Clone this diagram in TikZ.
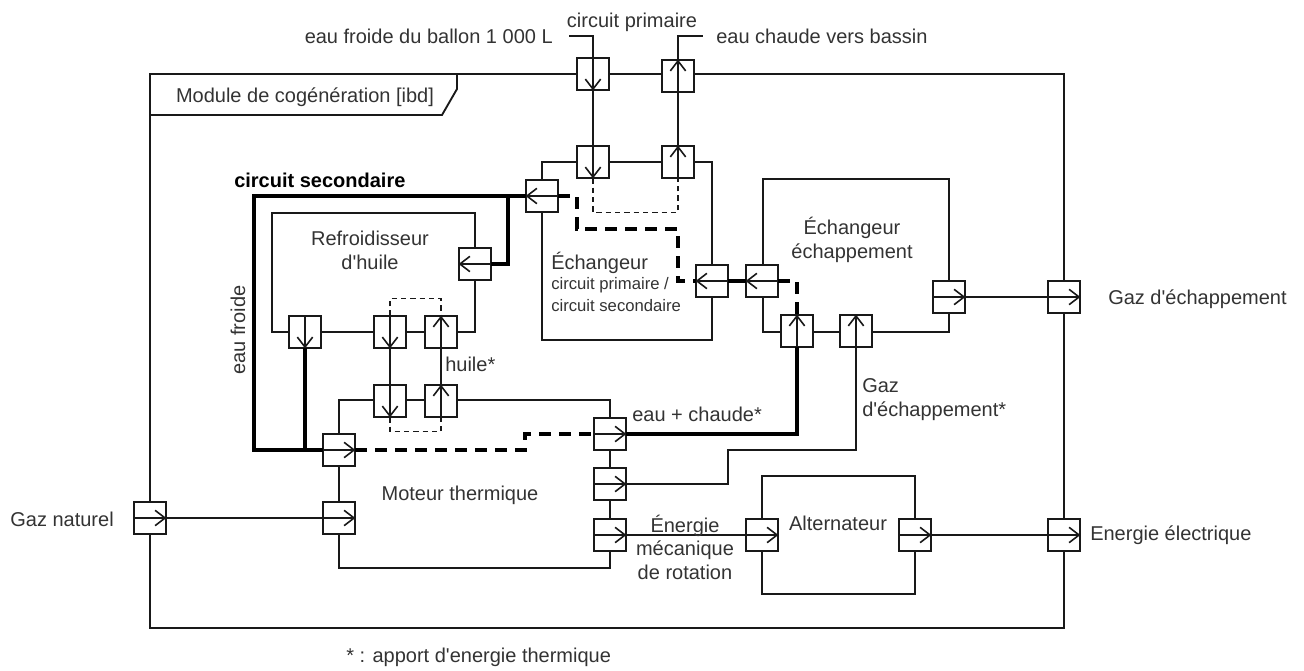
\documentclass[tikz,border=0pt]{standalone}
\usepackage{fontspec}
\setmainfont{Liberation Sans}[Ligatures=TeXOff]
\usetikzlibrary{arrows.meta}
\definecolor{txt}{RGB}{51,51,51}
\definecolor{ln}{RGB}{25,25,25}
\newcommand\prtR[2]{\node[port] (#1) at (#2) {}; \draw[flow] (#1.west) -- (#1.east);}
\newcommand\prtL[2]{\node[port] (#1) at (#2) {}; \draw[flow] (#1.east) -- (#1.west);}
\newcommand\prtU[2]{\node[port] (#1) at (#2) {}; \draw[flow] (#1.south) -- (#1.north);}
\newcommand\prtD[2]{\node[port] (#1) at (#2) {}; \draw[flow] (#1.north) -- (#1.south);}
\begin{document}
\begin{tikzpicture}[x=0.75pt,y=-0.75pt,
  every node/.style={font=\fontsize{15}{17.6}\selectfont, text=txt, inner sep=0pt},
  small/.style={font=\fontsize{12.5}{15}\selectfont},
  box/.style={draw=ln, line width=1.2pt, inner sep=0pt, outer sep=0pt},
  port/.style={draw=ln, fill=white, line width=1.6pt, minimum width=24.6pt, minimum height=24.6pt, inner sep=0pt, outer sep=0pt},
  conn/.style={draw=ln, line width=0.9pt},
  thk/.style={draw=black, line width=3pt},
  thkd/.style={draw=black, line width=3pt, dash pattern=on 9pt off 6pt},
  thd/.style={draw=ln, line width=0.9pt, dash pattern=on 4pt off 3pt},
  flow/.style={draw=ln, line width=0.9pt, -{Straight Barb[length=7.5pt,width=11.5pt,line width=1.2pt]}},
]
\useasboundingbox (0,0) rectangle (1304,671);

% frame and blocks
\node[box, line width=1.4pt, minimum width=685.5pt, minimum height=415.5pt] (frame) at (607,351) {};
\draw[box, line width=1.4pt] (frame.north west |- 0,115) -- (442,115) -- (457,89) -- (457,74);
\node (title) at (305,97) {Module de cogénération [ibd]};

\node[box, minimum width=127.5pt, minimum height=133.5pt] (exch) at (627,251) {};
\node[box, minimum width=139.5pt, minimum height=114.75pt] (exech) at (856,255.5) {};
\node[box, minimum width=152.25pt, minimum height=89.25pt] (refr) at (373.5,272.5) {};
\node[box, minimum width=203.25pt, minimum height=126pt] (mot) at (474.5,484) {};
\node[box, minimum width=114.75pt, minimum height=88.5pt] (alt) at (838.5,535) {};

% ports
\prtD{pF1}{593,74}
\prtU{pF2}{678,76}
\prtD{pE1}{593,162}
\prtU{pE2}{678,162}
\prtL{pE3}{542,196}
\prtL{pE4}{712,281}
\prtL{pX1}{762,281}
\prtU{pX2}{797,331}
\prtU{pX3}{856,331}
\prtR{pX4}{949,297}
\prtR{pO1}{1064,297}
\prtR{pO2}{1064,535}
\prtR{pIn}{150,518}
\prtD{pA}{305,332}
\prtD{pB}{390,332}
\prtU{pC}{441,332}
\prtL{pR}{475,264}
\prtD{pD}{390,401}
\prtU{pU}{441,401}
\prtR{pMF}{339,450}
\prtR{pMG}{339,518}
\prtR{pM1}{610,434}
\prtR{pM2}{610,484}
\prtR{pM3}{610,535}
\prtR{pL1}{762,535}
\prtR{pL2}{915,535}

% connectors
\coordinate (cA) at (569,36);
\coordinate (cB) at (703,36);
\draw[conn] (cA) -| (pF1.north);
\draw[conn] (pF2.north) |- (cB);
\draw[conn] (pF1.south) -- (pE1.north);
\draw[conn] (pE2.north) -- (pF2.south);
\draw[thd] (pE1.south) -- ++(0,34) -| (pE2.south);
\draw[thkd] (pE3.east) -- (577,196) -- (577,229) -- (678,229) -- (678,281) -- (pE4.west);
\draw[thk] (pE4.east) -- (pX1.west);
\draw[thkd] (pX1.east) -| (pX2.north);
\draw[thk] (pX2.south) |- (pM1.east);
\draw[conn] (pX4.east) -- (pO1.west);
\draw[conn] (pM2.east) -| (728,450) -| (pX3.south);
\draw[conn] (pM3.east) -- (pL1.west);
\draw[conn] (pL2.east) -- (pO2.west);
\draw[conn] (pIn.east) -- (pMG.west);
\draw[conn] (pB.south) -- (pD.north);
\draw[conn] (pU.north) -- (pC.south);
\draw[thd] (pB.north) -- ++(0,-17) -| (pC.north);
\draw[thd] (pD.south) -- ++(0,14) -| (pU.south);
\draw[thk] (pE3.west) -- (254,196) -- (254,450) -- (pMF.west);
\draw[thk] (508,196) |- (pR.east);
\draw[thk] (pA.south) -- (305,450);
\draw[thkd] (pMF.east) -- (525,450) -- (525,434) -- (pM1.west);

% labels
\node[anchor=east] (lEF) at (553,36) {eau froide du ballon 1 000 L};
\node (lCP) at (632,22) {circuit primaire};
\node[anchor=west] (lEC) at (716,36) {eau chaude vers bassin};
\node[anchor=west, font=\fontsize{15}{17.6}\selectfont\bfseries, text=black] (lCS) at (234,180) {circuit secondaire};
\node[align=center, font=\fontsize{15}{18}\selectfont] (lRf) at (370,250) {Refroidisseur\\d'huile};
\node[rotate=90] (lEFr) at (238,330) {eau froide};
\node[anchor=west] (lH) at (445,364) {huile*};
\node[anchor=west] (lEx1) at (551,263) {Échangeur};
\node[anchor=west, small] (lEx2) at (551,285) {circuit primaire /};
\node[anchor=west, small] (lEx3) at (551,306) {circuit secondaire};
\node[align=center, font=\fontsize{15}{18.5}\selectfont] (lEE) at (852,240) {Échangeur\\échappement};
\node[anchor=west] (lGE) at (1108,299) {Gaz d'échappement};
\node[anchor=west, align=left, font=\fontsize{15}{18}\selectfont] (lGE2) at (862,400) {Gaz\\d'échappement*};
\node[anchor=west] (lEC2) at (632,414) {eau + chaude*};
\node (lMT) at (460,495) {Moteur thermique};
\node[align=center] (lEM) at (685,547) {Énergie\\mécanique\\de rotation};
\node (lAl) at (838,523) {Alternateur};
\node[anchor=west] (lEl) at (1090,535) {Energie électrique};
\node[anchor=east] (lGN) at (114,519) {Gaz naturel};
\node[anchor=west] (lFn) at (346,657) {* : apport d'energie thermique};
\end{tikzpicture}
\end{document}
